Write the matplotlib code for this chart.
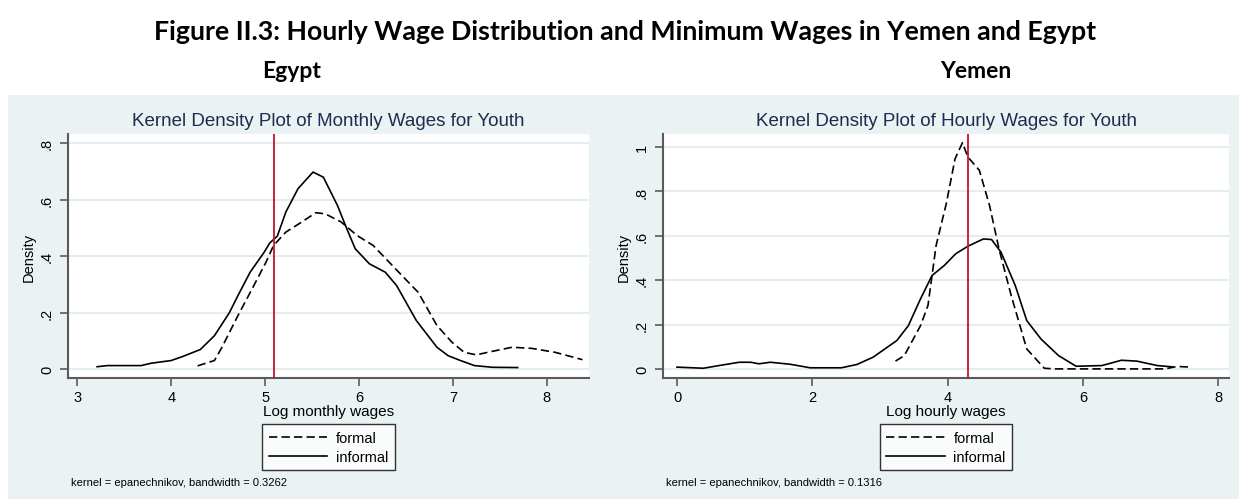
import matplotlib
matplotlib.use('Agg')
import matplotlib.pyplot as plt
from matplotlib.patches import Rectangle

# Egypt: log monthly wages
egypt_informal_x = [3.21, 3.32, 3.68, 3.78, 4.0, 4.12, 4.31, 4.46, 4.62, 4.71, 4.84, 4.99, 5.05, 5.13,
                    5.22, 5.35, 5.51, 5.62, 5.77, 5.87, 5.96, 6.11, 6.28, 6.40, 6.61, 6.83, 6.95, 7.08,
                    7.23, 7.42, 7.69]
egypt_informal_y = [0.008, 0.012, 0.012, 0.02, 0.03, 0.044, 0.069, 0.118, 0.20, 0.26, 0.343, 0.414,
                    0.447, 0.471, 0.556, 0.639, 0.698, 0.680, 0.58, 0.497, 0.426, 0.373, 0.343, 0.296,
                    0.172, 0.077, 0.047, 0.030, 0.012, 0.006, 0.005]
egypt_formal_x = [4.28, 4.46, 4.54, 4.71, 4.88, 5.01, 5.09, 5.22, 5.39, 5.54, 5.64, 5.81, 5.98, 6.15,
                  6.32, 6.49, 6.63, 6.83, 6.99, 7.12, 7.25, 7.37, 7.63, 7.84, 8.09, 8.38]
egypt_formal_y = [0.011, 0.030, 0.077, 0.189, 0.296, 0.379, 0.438, 0.485, 0.521, 0.554, 0.550, 0.521,
                  0.473, 0.438, 0.379, 0.320, 0.272, 0.154, 0.095, 0.059, 0.050, 0.059, 0.077, 0.073,
                  0.059, 0.033]
egypt_min_wage = 5.09

# Yemen: log hourly wages
yemen_informal_x = [0.0, 0.39, 0.62, 0.92, 1.09, 1.21, 1.38, 1.67, 1.97, 2.43, 2.66, 2.90, 3.25, 3.42,
                    3.60, 3.77, 3.95, 4.12, 4.30, 4.53, 4.65, 4.79, 5.0, 5.17, 5.38, 5.64, 5.90, 6.28,
                    6.57, 6.80, 7.10, 7.33]
yemen_informal_y = [0.008, 0.003, 0.015, 0.030, 0.030, 0.023, 0.030, 0.021, 0.005, 0.005, 0.020, 0.053,
                    0.128, 0.195, 0.316, 0.421, 0.466, 0.519, 0.553, 0.586, 0.583, 0.526, 0.376, 0.218,
                    0.135, 0.060, 0.012, 0.015, 0.039, 0.035, 0.015, 0.009]
yemen_formal_x = [3.23, 3.36, 3.60, 3.71, 3.83, 3.98, 4.11, 4.22, 4.30, 4.47, 4.62, 4.76, 4.94, 5.17,
                  5.43, 5.58, 7.21, 7.39, 7.61]
yemen_formal_y = [0.035, 0.060, 0.195, 0.286, 0.556, 0.744, 0.947, 1.02, 0.955, 0.895, 0.737, 0.541,
                  0.331, 0.090, 0.003, 0.0, 0.0, 0.011, 0.008]
yemen_min_wage = 4.30

egypt_xticks = [3, 4, 5, 6, 7, 8]
egypt_yticks = [0, 0.2, 0.4, 0.6, 0.8]
egypt_yticklabels = ['0', '.2', '.4', '.6', '.8']
yemen_xticks = [0, 2, 4, 6, 8]
yemen_yticks = [0, 0.2, 0.4, 0.6, 0.8, 1.0]
yemen_yticklabels = ['0', '.2', '.4', '.6', '.8', '1']

BG = '#eaf2f3'
NAVY = '#1e2c4e'
RED = '#c8102e'
AX = '#5a5a5a'
STATA_FONT = 'Liberation Sans'

W, H = 1239, 502
fig = plt.figure(figsize=(W / 100, H / 100), dpi=100)
fig.patch.set_facecolor('white')
fig.patches.append(Rectangle((8 / W, 1 - 500 / H), (W - 8) / W, (500 - 96) / H,
                             transform=fig.transFigure, facecolor=BG, edgecolor='none', zorder=-10))

fig.text(625 / W, 1 - 32 / H, 'Figure II.3: Hourly Wage Distribution and Minimum Wages in Yemen and Egypt',
         ha='center', va='center', fontsize=19.3, fontweight='bold', family='Lato')
fig.text(292 / W, 1 - 72 / H, 'Egypt', ha='center', va='center', fontsize=16.5, fontweight='bold', family='Lato')
fig.text(976 / W, 1 - 72 / H, 'Yemen', ha='center', va='center', fontsize=16.5, fontweight='bold', family='Lato')


def density_panel(rect, fx, fy, ix, iy, mw, xticks, yticks, ylabels, xlim, ylim, title, xlabel, note):
    ax = fig.add_axes(rect)
    ax.set_facecolor('white')
    for y in yticks:
        ax.axhline(y, color='#e3ecee', lw=1.3, zorder=1)
    ax.plot(fx, fy, color='black', lw=1.2, dashes=(5, 2.5), label='formal', zorder=3)
    ax.plot(ix, iy, color='black', lw=1.2, label='informal', zorder=3)
    ax.axvline(mw, color=RED, lw=1.3, zorder=4)
    ax.set_xlim(*xlim)
    ax.set_ylim(*ylim)
    ax.set_xticks(xticks)
    ax.set_yticks(yticks)
    ax.set_yticklabels(ylabels, rotation=90, va='center')
    for s in ['top', 'right']:
        ax.spines[s].set_visible(False)
    for s in ['left', 'bottom']:
        ax.spines[s].set_color(AX)
        ax.spines[s].set_linewidth(1.5)
    ax.tick_params(colors=AX, length=6, width=1.2, labelcolor='black', labelsize=10.5, pad=4)
    ax.tick_params(axis='x', pad=2.5)
    for lab in ax.get_xticklabels() + ax.get_yticklabels():
        lab.set_family(STATA_FONT)
    ax.set_ylabel('Density', family=STATA_FONT, fontsize=10.5, labelpad=3)
    ax.set_xlabel(xlabel, family=STATA_FONT, fontsize=11, labelpad=0.5)
    ax.text(0.5, 1.057, title, transform=ax.transAxes, ha='center', va='center',
            color=NAVY, fontsize=13.5, family=STATA_FONT)
    leg = ax.legend(loc='upper center', bbox_to_anchor=(0.5, -0.189), frameon=True, fancybox=False,
                    edgecolor='black', handlelength=4, handletextpad=0.6, borderpad=0.45,
                    labelspacing=0.35, borderaxespad=0,
                    prop={'family': STATA_FONT, 'size': 10.5})
    leg.get_frame().set_linewidth(1.0)
    ax.text(0.005, -0.426, note, transform=ax.transAxes, ha='left', va='center',
            fontsize=8, family=STATA_FONT)
    return ax


bottom = 1 - 379 / H
height = (379 - 135) / H
density_panel([68 / W, bottom, (589 - 68) / W, height],
              egypt_formal_x, egypt_formal_y, egypt_informal_x, egypt_informal_y, egypt_min_wage,
              egypt_xticks, egypt_yticks, egypt_yticklabels, (2.9, 8.45), (-0.032, 0.833),
              'Kernel Density Plot of Monthly Wages for Youth', 'Log monthly wages',
              'kernel = epanechnikov, bandwidth = 0.3262')
density_panel([663 / W, bottom, (1229 - 663) / W, height],
              yemen_formal_x, yemen_formal_y, yemen_informal_x, yemen_informal_y, yemen_min_wage,
              yemen_xticks, yemen_yticks, yemen_yticklabels, (-0.207, 8.16), (-0.041, 1.059),
              'Kernel Density Plot of Hourly Wages for Youth', 'Log hourly wages',
              'kernel = epanechnikov, bandwidth = 0.1316')

fig.savefig('out.png', dpi=100)
